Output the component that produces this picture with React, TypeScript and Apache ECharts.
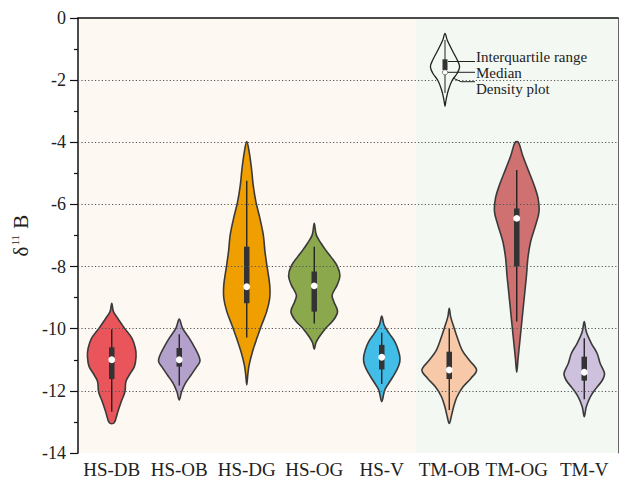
import React, { useEffect, useRef } from "react";
import * as echarts from "echarts";

const categories = ["HS-DB", "HS-OB", "HS-DG", "HS-OG", "HS-V", "TM-OB", "TM-OG", "TM-V"];
const fillColors = ["#E9555A", "#B3A1CB", "#F09F00", "#8BA84C", "#42BDE8", "#F8C9A8", "#D07171", "#CDC1DE"];

// violin outlines: [value, relative half-width (fraction of half band)]
const hsDB = [[-9.18, 0], [-9.45, 0.05], [-9.67, 0.18], [-9.83, 0.28], [-9.99, 0.38], [-10.31, 0.6], [-10.63, 0.7], [-10.9, 0.72], [-11.22, 0.67], [-11.49, 0.52], [-11.7, 0.42], [-12.03, 0.39], [-12.35, 0.28], [-12.67, 0.18], [-13.03, 0.07]];
const hsOB = [[-9.69, 0], [-9.99, 0.1], [-10.31, 0.3], [-10.63, 0.47], [-10.9, 0.59], [-11.06, 0.61], [-11.22, 0.52], [-11.49, 0.35], [-11.76, 0.18], [-12.03, 0.07], [-12.29, 0]];
const hsDG = [[-3.98, 0], [-4.3, 0.07], [-4.84, 0.14], [-5.37, 0.19], [-5.91, 0.27], [-6.45, 0.39], [-6.98, 0.49], [-7.52, 0.54], [-8.06, 0.61], [-8.59, 0.68], [-9.02, 0.68], [-9.45, 0.59], [-9.88, 0.44], [-10.31, 0.3], [-10.74, 0.17], [-11.17, 0.07], [-11.49, 0.03], [-11.81, 0]];
const hsOG = [[-6.61, 0], [-6.98, 0.06], [-7.25, 0.2], [-7.5, 0.36], [-7.68, 0.49], [-8.0, 0.69], [-8.3, 0.76], [-8.59, 0.68], [-8.92, 0.53], [-9.13, 0.58], [-9.45, 0.69], [-9.72, 0.57], [-10.0, 0.33], [-10.26, 0.15], [-10.45, 0.05], [-10.66, 0]];
const hsV = [[-9.59, 0], [-9.88, 0.07], [-10.15, 0.22], [-10.42, 0.39], [-10.69, 0.49], [-10.95, 0.54], [-11.17, 0.51], [-11.44, 0.39], [-11.7, 0.24], [-11.97, 0.09], [-12.35, 0]];
const tmOB = [[-9.34, 0], [-9.61, 0.04], [-9.93, 0.13], [-10.26, 0.23], [-10.69, 0.38], [-11.01, 0.59], [-11.33, 0.81], [-11.6, 0.64], [-11.87, 0.41], [-12.19, 0.23], [-12.51, 0.13], [-12.78, 0.07], [-13.05, 0]];
const tmOG = [[-4.0, 0.05], [-4.41, 0.17], [-4.84, 0.32], [-5.37, 0.51], [-5.8, 0.63], [-6.23, 0.66], [-6.66, 0.56], [-7.2, 0.41], [-7.73, 0.33], [-8.27, 0.29], [-8.81, 0.24], [-9.34, 0.19], [-9.88, 0.14], [-10.42, 0.09], [-10.95, 0.04], [-11.4, 0]];
const tmV = [[-9.77, 0], [-10.1, 0.06], [-10.47, 0.21], [-10.79, 0.38], [-11.11, 0.47], [-11.44, 0.6], [-11.65, 0.54], [-11.92, 0.35], [-12.19, 0.18], [-12.51, 0.06], [-12.83, 0]];
const profiles = [hsDB, hsOB, hsDG, hsOG, hsV, tmOB, tmOG, tmV];

const whiskerHigh = [-10.02, -10.18, -5.24, -7.36, -10.13, -9.99, -4.89, -10.31];
const q3 = [-10.6, -10.62, -7.36, -8.16, -10.52, -10.74, -6.13, -10.9];
const medians = [-11.0, -11.0, -8.65, -8.62, -10.92, -11.33, -6.45, -11.4];
const q1 = [-11.62, -11.22, -9.18, -9.45, -11.31, -11.62, -8.0, -11.67];
const whiskerLow = [-12.67, -11.83, -10.28, -9.83, -11.78, -12.62, -9.77, -12.27];

const yMin = -14;
const yMax = 0;
const yInterval = 2;
const gridValues = [-2, -4, -6, -8, -10, -12];

// background groups: [first category index, last category index]
const groups = [[0, 4], [5, 7]];
const groupColors = ["#FDF8F1", "#F3F8F3"];

// legend sketch outline: [dy px, half width px]
const legendShape = [[0, 0], [7, 2.3], [17, 7.2], [27, 12.4], [33.4, 14.6], [40, 12.2], [47, 7.2], [57, 3.3], [67, 1], [73, 0]];
const legendLabels = ["Interquartile range", "Median", "Density plot"];

const FONT = "'Liberation Serif', 'Times New Roman', serif";

export default function App() {
  const ref = useRef<HTMLDivElement>(null);
  useEffect(() => {
    const chart = echarts.init(ref.current!, null, { renderer: "svg" });

    const lcx = 445;
    const ltop = 33.3;
    const right = legendShape.map(([dy, w]) => [lcx + w, ltop + dy]);
    const left = legendShape.filter(([, w]) => w > 0).reverse().map(([dy, w]) => [lcx - w, ltop + dy]);
    const legendPts = right.concat(left);
    const bgLegend = groupColors[1];

    const option: any = {
      animation: false,
      grid: { left: 78, right: 3, top: 18, bottom: 38, containLabel: false },
      xAxis: {
        type: "category",
        data: categories,
        boundaryGap: true,
        axisLine: { lineStyle: { color: "#111", width: 1.5 } },
        axisTick: { alignWithLabel: true, length: 6, lineStyle: { color: "#111", width: 1.2 } },
        axisLabel: { interval: 0, color: "#222", fontFamily: FONT, fontSize: 19, margin: 7 },
        splitLine: { show: false },
      },
      yAxis: [
        {
          type: "value",
          min: yMin,
          max: yMax,
          interval: yInterval,
          name: "{d|δ}{s|11}{d| B}",
          nameLocation: "middle",
          nameRotate: 90,
          nameGap: 45,
          nameTextStyle: {
            fontFamily: FONT,
            fontSize: 20,
            color: "#222",
            rich: {
              d: { fontFamily: FONT, fontSize: 21, color: "#222" },
              s: { fontFamily: FONT, fontSize: 11, color: "#222", padding: [0, 1, 11, 1] },
            },
          },
          axisLine: { show: true, lineStyle: { color: "#111", width: 1.5 } },
          axisTick: { show: true, length: 8, lineStyle: { color: "#111", width: 1.2 } },
          minorTick: { show: true, splitNumber: 2, length: 4, lineStyle: { color: "#111", width: 1.2 } },
          axisLabel: { color: "#222", fontFamily: FONT, fontSize: 18, margin: 12 },
          splitLine: { show: false },
        },
        {
          type: "value",
          min: yMin,
          max: yMax,
          interval: yInterval,
          position: "right",
          axisLine: { show: true, lineStyle: { color: "#666", width: 1 } },
          axisTick: { show: false },
          axisLabel: { show: false },
          splitLine: { show: false },
        },
      ],
      series: [
        {
          type: "custom",
          z: 0,
          silent: true,
          data: groups.map((g, k) => [g[0], g[1], k]),
          renderItem: (params: any, api: any) => {
            const s = api.value(0);
            const e = api.value(1);
            const k = api.value(2);
            const band = api.size([1, 0])[0];
            const x0 = api.coord([s, 0])[0] - band / 2;
            const x1 = api.coord([e, 0])[0] + band / 2;
            const cs = params.coordSys;
            return {
              type: "rect",
              shape: { x: x0, y: cs.y, width: x1 - x0, height: cs.height },
              style: { fill: groupColors[k] },
            };
          },
          markLine: {
            silent: true,
            symbol: ["none", "none"],
            label: { show: false },
            lineStyle: { color: "#555", width: 1, type: [1.2, 2.2] },
            data: gridValues.map((v) => ({ yAxis: v })),
          },
        },
        {
          type: "custom",
          z: 3,
          data: categories.map((c, i) => [i, medians[i]]),
          renderItem: (params: any, api: any) => {
            const i = params.dataIndex;
            const prof = profiles[i];
            const band = api.size([1, 0])[0];
            const half = band / 2;
            const cx = api.coord([i, 0])[0];
            const r = prof.map(([v, w]) => [cx + w * half, api.coord([i, v])[1]]);
            const l = prof
              .filter(([, w]) => w > 0)
              .slice()
              .reverse()
              .map(([v, w]) => [cx - w * half, api.coord([i, v])[1]]);
            const pts = r.concat(l);
            const yWH = api.coord([i, whiskerHigh[i]])[1];
            const yWL = api.coord([i, whiskerLow[i]])[1];
            const yQ3 = api.coord([i, q3[i]])[1];
            const yQ1 = api.coord([i, q1[i]])[1];
            const yMed = api.coord([i, medians[i]])[1];
            const bw = 5.5;
            return {
              type: "group",
              children: [
                {
                  type: "polygon",
                  shape: { points: pts, smooth: 0.35 },
                  style: { fill: fillColors[i], stroke: "#3a3a3a", lineWidth: 1.6 },
                },
                {
                  type: "line",
                  shape: { x1: cx, y1: yWH, x2: cx, y2: yWL },
                  style: { stroke: "#1a1a1a", lineWidth: 1.3 },
                },
                {
                  type: "rect",
                  shape: { x: cx - bw / 2, y: yQ3, width: bw, height: yQ1 - yQ3 },
                  style: { fill: "#333333" },
                },
                {
                  type: "circle",
                  shape: { cx: cx, cy: yMed, r: 3.4 },
                  style: { fill: "#ffffff" },
                },
              ],
            };
          },
        },
      ],
      graphic: [
        {
          type: "polygon",
          z: 10,
          shape: { points: legendPts, smooth: 0.35 },
          style: { fill: bgLegend, stroke: "#222", lineWidth: 1.3 },
        },
        { type: "line", z: 11, shape: { x1: lcx, y1: 40, x2: lcx, y2: 93 }, style: { stroke: "#222", lineWidth: 1 } },
        { type: "rect", z: 11, shape: { x: lcx - 2.5, y: 59.3, width: 5, height: 10.7 }, style: { fill: "#333" } },
        { type: "circle", z: 12, shape: { cx: lcx, cy: 72.3, r: 2.6 }, style: { fill: "#fff", stroke: "#333", lineWidth: 0.6 } },
        { type: "polyline", z: 11, shape: { points: [[lcx + 3, 61.5], [475, 61.5]] }, style: { stroke: "#222", lineWidth: 1, fill: null } },
        { type: "polyline", z: 11, shape: { points: [[lcx + 3, 72.3], [475, 72.3]] }, style: { stroke: "#222", lineWidth: 1, fill: null } },
        { type: "polyline", z: 11, shape: { points: [[lcx + 8, 78], [461, 81.7], [475, 81.7]] }, style: { stroke: "#222", lineWidth: 1, fill: null } },
        ...legendLabels.map((t, k) => ({
          type: "text",
          z: 11,
          x: 476,
          y: [57, 72.5, 88.5][k],
          style: {
            text: t,
            fontFamily: FONT,
            fontSize: 15,
            lineHeight: 14,
            fill: "#222",
            verticalAlign: "middle",
            align: "left",
            backgroundColor: bgLegend,
          },
        })),
      ],
    };
    chart.setOption(option);
    return () => chart.dispose();
  }, []);
  return <div ref={ref} style={{ position: "absolute", left: 0, top: 0, width: 621, height: 491 }} />;
}
